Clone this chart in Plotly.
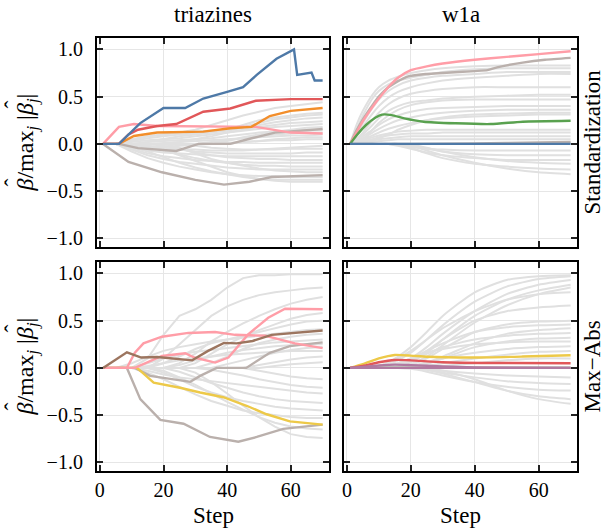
import plotly.graph_objects as go

# ---------------- data ----------------
T_STEPS = [1, 5, 10, 15, 20, 25, 30, 35, 40, 45, 50, 55, 60, 65, 70]
W_STEPS = [1, 3, 5, 8, 10, 13, 16, 20, 25, 30, 40, 50, 60, 70]

# triazines / Standardization background paths
TRI_STD_GRAY = [
    [0, 0, 0.05, 0.08, 0.1, 0.12, 0.15, 0.2, 0.25, 0.3, 0.34, 0.38, 0.4, 0.42, 0.44],
    [0, 0, 0, 0.02, 0.05, 0.08, 0.1, 0.12, 0.15, 0.2, 0.25, 0.28, 0.3, 0.32, 0.33],
    [0, 0, 0.03, 0.06, 0.08, 0.1, 0.11, 0.12, 0.14, 0.17, 0.2, 0.23, 0.25, 0.27, 0.28],
    [0, 0, 0, 0, 0, 0.02, 0.05, 0.08, 0.12, 0.15, 0.18, 0.2, 0.22, 0.23, 0.24],
    [0, 0, 0.02, 0.04, 0.05, 0.06, 0.08, 0.1, 0.12, 0.14, 0.16, 0.18, 0.19, 0.2, 0.21],
    [0, 0, 0, 0, 0, 0, 0, 0, 0.03, 0.07, 0.1, 0.13, 0.15, 0.17, 0.18],
    [0, 0, 0, 0.02, 0.03, 0.04, 0.05, 0.06, 0.08, 0.1, 0.12, 0.13, 0.14, 0.15, 0.15],
    [0, 0, 0, 0, 0, 0, 0, 0.02, 0.04, 0.06, 0.08, 0.1, 0.11, 0.12, 0.12],
    [0, 0, 0, 0, 0.01, 0.02, 0.03, 0.04, 0.05, 0.06, 0.07, 0.08, 0.09, 0.09, 0.1],
    [0, 0, 0, 0, 0, 0, 0, 0, 0, 0.02, 0.03, 0.05, 0.06, 0.07, 0.07],
    [0, 0, -0.02, -0.03, -0.03, -0.02, -0.01, 0, 0.01, 0.02, 0.03, 0.04, 0.04, 0.05, 0.05],
    [0, 0, 0, 0, 0, 0, -0.02, -0.04, -0.05, -0.06, -0.06, -0.05, -0.04, -0.03, -0.02],
    [0, 0, -0.03, -0.05, -0.06, -0.06, -0.06, -0.07, -0.07, -0.07, -0.06, -0.06, -0.05, -0.05, -0.05],
    [0, 0, 0, -0.02, -0.04, -0.06, -0.08, -0.09, -0.1, -0.1, -0.1, -0.1, -0.1, -0.09, -0.09],
    [0, 0, -0.04, -0.07, -0.09, -0.1, -0.11, -0.12, -0.13, -0.13, -0.13, -0.13, -0.13, -0.13, -0.13],
    [0, 0, 0, 0, -0.02, -0.05, -0.09, -0.12, -0.14, -0.15, -0.16, -0.16, -0.17, -0.17, -0.17],
    [0, 0, -0.05, -0.1, -0.13, -0.15, -0.17, -0.18, -0.19, -0.19, -0.2, -0.2, -0.2, -0.2, -0.2],
    [0, 0, 0, -0.03, -0.07, -0.11, -0.15, -0.18, -0.2, -0.22, -0.23, -0.23, -0.24, -0.24, -0.24],
    [0, 0, -0.06, -0.12, -0.16, -0.19, -0.21, -0.23, -0.25, -0.26, -0.27, -0.27, -0.27, -0.27, -0.27],
    [0, 0, 0, 0, 0, -0.04, -0.1, -0.16, -0.2, -0.23, -0.26, -0.28, -0.29, -0.3, -0.3],
    [0, 0, -0.08, -0.15, -0.2, -0.24, -0.27, -0.3, -0.32, -0.33, -0.34, -0.34, -0.35, -0.35, -0.35],
    [0, 0, -0.03, -0.08, -0.14, -0.2, -0.25, -0.29, -0.32, -0.35, -0.37, -0.38, -0.38, -0.38, -0.38],
    [0, 0, 0, -0.02, -0.06, -0.12, -0.18, -0.24, -0.3, -0.34, -0.37, -0.39, -0.4, -0.4, -0.4],
    [0, 0, 0.04, 0.08, 0.1, 0.12, 0.13, 0.14, 0.15, 0.18, 0.22, 0.26, 0.28, 0.3, 0.31],
]

# w1a / Standardization background paths
W1A_STD_GRAY = [
    [0, 0.2, 0.35, 0.52, 0.6, 0.67, 0.71, 0.75, 0.78, 0.8, 0.82, 0.83, 0.83, 0.83],
    [0, 0.15, 0.3, 0.48, 0.56, 0.63, 0.67, 0.7, 0.73, 0.76, 0.79, 0.8, 0.8, 0.8],
    [0, 0.1, 0.22, 0.38, 0.47, 0.56, 0.62, 0.67, 0.7, 0.72, 0.74, 0.76, 0.76, 0.76],
    [0, 0.08, 0.18, 0.32, 0.4, 0.49, 0.55, 0.6, 0.64, 0.67, 0.7, 0.72, 0.74, 0.74],
    [0, 0.05, 0.12, 0.25, 0.33, 0.42, 0.48, 0.53, 0.56, 0.58, 0.6, 0.6, 0.6, 0.6],
    [0, 0.05, 0.1, 0.2, 0.27, 0.35, 0.4, 0.44, 0.46, 0.48, 0.5, 0.51, 0.52, 0.52],
    [0, 0, 0.05, 0.15, 0.22, 0.3, 0.36, 0.41, 0.44, 0.46, 0.47, 0.47, 0.47, 0.47],
    [0, 0.03, 0.08, 0.15, 0.2, 0.26, 0.3, 0.34, 0.37, 0.38, 0.39, 0.4, 0.4, 0.4],
    [0, 0.03, 0.06, 0.12, 0.16, 0.21, 0.25, 0.28, 0.31, 0.33, 0.35, 0.36, 0.36, 0.36],
    [0, 0, 0, 0.03, 0.06, 0.1, 0.15, 0.2, 0.25, 0.28, 0.31, 0.32, 0.33, 0.33],
    [0, 0.02, 0.05, 0.09, 0.12, 0.16, 0.19, 0.22, 0.25, 0.27, 0.29, 0.3, 0.31, 0.31],
    [0, 0.02, 0.04, 0.07, 0.09, 0.11, 0.13, 0.14, 0.15, 0.15, 0.15, 0.15, 0.15, 0.15],
    [0, 0.01, 0.03, 0.05, 0.07, 0.09, 0.1, 0.11, 0.11, 0.12, 0.12, 0.12, 0.12, 0.12],
    [0, 0.01, 0.02, 0.04, 0.05, 0.06, 0.07, 0.08, 0.08, 0.08, 0.08, 0.08, 0.08, 0.08],
    [0, 0, 0.01, 0.02, 0.03, 0.04, 0.05, 0.05, 0.05, 0.05, 0.05, 0.05, 0.05, 0.05],
    [0, 0, 0, 0, 0, 0, -0.01, -0.03, -0.05, -0.06, -0.07, -0.07, -0.07, -0.07],
    [0, 0, 0, 0, 0, 0, 0, -0.02, -0.05, -0.08, -0.11, -0.12, -0.12, -0.12],
    [0, 0, 0, 0, 0, 0, -0.02, -0.05, -0.09, -0.12, -0.15, -0.17, -0.17, -0.17],
    [0, 0, 0, 0, 0, 0, 0, -0.01, -0.04, -0.08, -0.14, -0.18, -0.2, -0.21],
    [0, 0, 0, 0, 0, 0, -0.01, -0.04, -0.1, -0.15, -0.21, -0.24, -0.26, -0.27],
    [0, 0, 0, 0, 0, 0, 0, -0.02, -0.07, -0.12, -0.2, -0.26, -0.3, -0.32],
]

# triazines / Max-Abs background paths
TRI_MAX_GRAY = [
    [0, 0, 0, 0.1, 0.35, 0.55, 0.62, 0.72, 0.85, 0.95, 0.98, 0.98, 0.99, 0.99, 0.99],
    [0, 0, 0, 0, 0.1, 0.25, 0.4, 0.55, 0.65, 0.72, 0.77, 0.8, 0.82, 0.84, 0.85],
    [0, 0, 0, 0, 0, 0.05, 0.15, 0.28, 0.38, 0.47, 0.55, 0.62, 0.68, 0.72, 0.75],
    [0, 0, 0, 0, 0, 0, 0.05, 0.15, 0.25, 0.33, 0.4, 0.46, 0.52, 0.56, 0.58],
    [0, 0, 0, 0, 0.05, 0.12, 0.2, 0.26, 0.3, 0.34, 0.38, 0.42, 0.46, 0.49, 0.5],
    [0, 0, 0.05, 0.12, 0.18, 0.22, 0.25, 0.28, 0.3, 0.32, 0.34, 0.36, 0.38, 0.4, 0.41],
    [0, 0, 0, 0, 0, 0, 0, 0.05, 0.12, 0.2, 0.26, 0.3, 0.33, 0.35, 0.36],
    [0, 0, 0, 0.05, 0.1, 0.14, 0.17, 0.19, 0.21, 0.23, 0.25, 0.27, 0.28, 0.29, 0.3],
    [0, 0, 0, 0, 0, 0.03, 0.08, 0.12, 0.16, 0.19, 0.21, 0.23, 0.24, 0.25, 0.25],
    [0, 0, 0, 0, 0, 0, 0, 0, 0.04, 0.08, 0.12, 0.16, 0.19, 0.21, 0.22],
    [0, 0, 0, 0.02, 0.05, 0.08, 0.1, 0.12, 0.14, 0.15, 0.16, 0.17, 0.18, 0.18, 0.18],
    [0, 0, 0, 0, 0, 0, 0, 0, 0, 0, 0.03, 0.06, 0.09, 0.11, 0.12],
    [0, 0, 0, 0, 0, 0, 0, 0, 0, 0, 0, 0.02, 0.04, 0.05, 0.06],
    [0, 0, 0, 0, 0, 0, 0, 0, 0, 0, -0.03, -0.06, -0.09, -0.11, -0.12],
    [0, 0, 0, 0, 0, 0, 0, -0.02, -0.05, -0.08, -0.12, -0.15, -0.18, -0.2, -0.21],
    [0, 0, 0, -0.03, -0.07, -0.1, -0.12, -0.14, -0.16, -0.18, -0.2, -0.22, -0.24, -0.26, -0.27],
    [0, 0, 0, 0, 0, -0.04, -0.1, -0.16, -0.21, -0.26, -0.3, -0.33, -0.35, -0.36, -0.37],
    [0, 0, 0, 0, -0.05, -0.12, -0.2, -0.26, -0.31, -0.35, -0.38, -0.41, -0.43, -0.44, -0.45],
    [0, 0, 0, -0.05, -0.12, -0.2, -0.28, -0.35, -0.4, -0.45, -0.48, -0.5, -0.52, -0.53, -0.53],
    [0, 0, 0, 0, -0.03, -0.1, -0.18, -0.27, -0.36, -0.44, -0.52, -0.58, -0.62, -0.64, -0.65],
    [0, 0, 0, 0, 0, 0, -0.05, -0.15, -0.27, -0.4, -0.52, -0.62, -0.7, -0.73, -0.74],
]

# w1a / Max-Abs background paths
W1A_MAX_GRAY = [
    [0, 0, 0, 0, 0.02, 0.06, 0.12, 0.22, 0.38, 0.55, 0.8, 0.93, 0.97, 0.98],
    [0, 0, 0, 0, 0, 0.03, 0.08, 0.16, 0.3, 0.45, 0.7, 0.86, 0.94, 0.97],
    [0, 0, 0, 0, 0, 0, 0.03, 0.1, 0.22, 0.36, 0.6, 0.78, 0.88, 0.93],
    [0, 0, 0, 0, 0, 0, 0.02, 0.06, 0.16, 0.3, 0.55, 0.72, 0.82, 0.88],
    [0, 0, 0, 0, 0, 0, 0, 0.04, 0.12, 0.24, 0.48, 0.66, 0.78, 0.85],
    [0, 0, 0, 0, 0.02, 0.05, 0.1, 0.18, 0.3, 0.42, 0.6, 0.72, 0.78, 0.8],
    [0, 0, 0, 0, 0, 0, 0.02, 0.08, 0.18, 0.3, 0.5, 0.6, 0.64, 0.66],
    [0, 0, 0, 0, 0, 0, 0, 0.03, 0.1, 0.2, 0.38, 0.46, 0.49, 0.5],
    [0, 0, 0, 0, 0, 0.02, 0.05, 0.1, 0.18, 0.26, 0.38, 0.43, 0.45, 0.46],
    [0, 0, 0, 0, 0, 0, 0, 0.02, 0.06, 0.12, 0.26, 0.36, 0.4, 0.42],
    [0, 0, 0, 0, 0, 0, 0.03, 0.08, 0.15, 0.22, 0.3, 0.34, 0.36, 0.37],
    [0, 0, 0, 0, 0, 0, 0, 0, 0.04, 0.1, 0.22, 0.28, 0.31, 0.32],
    [0, 0, 0, 0, 0, 0.02, 0.05, 0.1, 0.16, 0.2, 0.25, 0.27, 0.28, 0.28],
    [0, 0, 0, 0, 0, 0, 0, 0.02, 0.05, 0.1, 0.16, 0.2, 0.22, 0.23],
    [0, 0, 0, 0, 0, 0, 0, 0, 0.02, 0.05, 0.1, 0.14, 0.17, 0.18],
    [0, 0, 0, 0, 0, 0, 0, 0, 0, 0.02, 0.05, 0.08, 0.1, 0.1],
    [0, 0, 0, 0, 0, 0, 0, 0, -0.01, -0.03, -0.06, -0.08, -0.09, -0.1],
    [0, 0, 0, 0, 0, 0, 0, 0, -0.02, -0.05, -0.1, -0.14, -0.16, -0.17],
    [0, 0, 0, 0, 0, 0, 0, -0.01, -0.04, -0.08, -0.15, -0.2, -0.23, -0.24],
    [0, 0, 0, 0, 0, 0, 0, 0, -0.02, -0.06, -0.15, -0.24, -0.3, -0.33],
    [0, 0, 0, 0, 0, 0, 0, 0, 0, -0.03, -0.12, -0.24, -0.33, -0.38],
]

# highlighted paths
TRI_STD_BLUE_X = [1, 6, 12.7, 20, 26.8, 32.5, 40, 45, 49.3, 55.5, 61, 62, 66.5, 67.5, 70]
TRI_STD_BLUE_Y = [0, 0, 0.22, 0.38, 0.38, 0.48, 0.55, 0.6, 0.73, 0.9, 1.0, 0.73, 0.755, 0.67, 0.67]
TRI_STD_RED_X = [1, 6, 9, 12, 18, 24, 32.5, 41, 49, 60, 70]
TRI_STD_RED_Y = [0, 0, 0.1, 0.15, 0.19, 0.21, 0.34, 0.375, 0.456, 0.474, 0.474]
TRI_STD_PINK_X = [1, 6, 10.7, 18, 49, 54, 60, 70]
TRI_STD_PINK_Y = [0, 0.18, 0.21, 0.19, 0.18, 0.15, 0.12, 0.11]
TRI_STD_ORANGE_X = [1, 6, 10.7, 18, 32.5, 41, 47.6, 53.4, 60, 70]
TRI_STD_ORANGE_Y = [0, 0, 0.084, 0.12, 0.13, 0.165, 0.18, 0.295, 0.35, 0.38]
TRI_STD_GRAYA_X = [1, 6, 12, 24, 31, 41, 47.7, 55, 70]
TRI_STD_GRAYA_Y = [0, 0, -0.045, -0.074, 0, 0, 0.06, 0.12, 0.158]
TRI_STD_GRAYB_X = [1, 9, 19.5, 30, 39, 47, 54, 70]
TRI_STD_GRAYB_Y = [0, -0.19, -0.3, -0.38, -0.43, -0.4, -0.35, -0.33]

W1A_STD_PINK_X = [1, 3, 5, 8, 10, 13.5, 16, 20, 25, 30, 40, 50, 60, 70]
W1A_STD_PINK_Y = [0, 0.12, 0.24, 0.39, 0.48, 0.62, 0.7, 0.78, 0.82, 0.85, 0.89, 0.92, 0.95, 0.98]
W1A_STD_GRAY_X = [1, 3, 5, 8, 10, 13, 18.7, 25, 30, 40, 44, 47, 55, 62, 70]
W1A_STD_GRAY_Y = [0, 0.14, 0.26, 0.41, 0.5, 0.6, 0.71, 0.74, 0.75, 0.77, 0.78, 0.81, 0.86, 0.89, 0.91]
W1A_STD_GREEN_X = [1, 3, 6, 9, 11, 14, 18, 24, 34, 45, 55, 70]
W1A_STD_GREEN_Y = [0, 0.09, 0.2, 0.28, 0.31, 0.305, 0.27, 0.235, 0.218, 0.21, 0.235, 0.245]
W1A_STD_GRAY2_X = [1, 20, 40, 60, 70]
W1A_STD_GRAY2_Y = [0, 0, 0.005, 0.015, 0.02]
W1A_STD_BLUE_X = [1, 70]
W1A_STD_BLUE_Y = [0, 0]

TRI_MAX_BROWN_X = [1, 8.5, 13, 18, 29, 34, 39, 43, 48, 54, 70]
TRI_MAX_BROWN_Y = [0, 0.165, 0.11, 0.115, 0.08, 0.18, 0.265, 0.26, 0.285, 0.35, 0.395]
TRI_MAX_PINKA_X = [1, 8.5, 11, 13.7, 19.5, 27.8, 36.2, 42.5, 52, 61.3, 70]
TRI_MAX_PINKA_Y = [0, 0, 0.16, 0.26, 0.33, 0.37, 0.38, 0.35, 0.34, 0.26, 0.21]
TRI_MAX_PINKB_X = [1, 11, 19.5, 26.8, 29.7, 36.2, 40.4, 46.6, 52.9, 58.2, 70]
TRI_MAX_PINKB_Y = [0, 0, 0.126, 0.155, 0.11, 0.056, 0.11, 0.355, 0.53, 0.625, 0.62]
TRI_MAX_YELLOW_X = [1, 11.7, 16.9, 25.2, 31.5, 38.8, 46.1, 52.4, 59.7, 70]
TRI_MAX_YELLOW_Y = [0, 0, -0.155, -0.21, -0.26, -0.31, -0.4, -0.49, -0.565, -0.6]
TRI_MAX_GRAYA_X = [1, 11, 15.8, 28.4, 31.5, 36.7, 46, 53.4, 59.7, 70]
TRI_MAX_GRAYA_Y = [0, 0, -0.084, -0.147, -0.084, 0, 0, 0.16, 0.23, 0.27]
TRI_MAX_GRAYB_X = [1, 8.5, 12.7, 19, 26.3, 34.6, 43.5, 49.3, 57.6, 70]
TRI_MAX_GRAYB_Y = [0, 0, -0.33, -0.55, -0.59, -0.73, -0.78, -0.73, -0.645, -0.6]

W1A_MAX_YELLOW_X = [1, 5, 10, 15, 20, 25, 40, 55, 70]
W1A_MAX_YELLOW_Y = [0, 0.04, 0.1, 0.137, 0.13, 0.118, 0.11, 0.12, 0.134]
W1A_MAX_RED_X = [1, 5, 10, 15, 20, 30, 45, 70]
W1A_MAX_RED_Y = [0, 0.02, 0.06, 0.084, 0.08, 0.06, 0.052, 0.05]
W1A_MAX_GREEN_X = [1, 70]
W1A_MAX_GREEN_Y = [0, 0]
W1A_MAX_PURPLE_X = [1, 5, 10, 15, 20, 30, 40, 70]
W1A_MAX_PURPLE_Y = [0, 0.01, 0.025, 0.035, 0.03, 0.015, 0.005, 0.0]
W1A_MAX_PURPLE2_X = [1, 70]
W1A_MAX_PURPLE2_Y = [0, 0]

COLUMN_TITLES = ["triazines", "w1a"]
ROW_TITLES = ["Standardization", "Max\u2212Abs"]
Y_TICKS = [-1.0, -0.5, 0.0, 0.5, 1.0]
Y_TICK_TEXT = ["\u22121.0", "\u22120.5", "0.0", "0.5", "1.0"]
X_TICKS = [0, 20, 40, 60]
X_TICK_TEXT = ["0", "20", "40", "60"]

# ---------------- colours ----------------
BLUE = "#4e79a7"; ORANGE = "#f28e2b"; RED = "#e15759"; GREEN = "#59a14f"
YELLOW = "#edc948"; PURPLE = "#b07aa1"; PINK = "#ff9da7"; BROWN = "#9c755f"
GREYBROWN = "#bab0ac"; LIGHT = "#e0e0e0"

FONT = "Liberation Serif, Times New Roman, serif"
fig = go.Figure()

def add_line(x, y, color, axis, width=2.4, spline=False):
    fig.add_trace(go.Scatter(
        x=x, y=y, mode="lines",
        line=dict(color=color, width=width, shape="spline" if spline else "linear", smoothing=0.6),
        xaxis="x" + axis, yaxis="y" + axis, showlegend=False, hoverinfo="skip"))

for row in TRI_STD_GRAY:
    add_line(T_STEPS, row, LIGHT, "", width=2)
for x, y, c in [(TRI_STD_GRAYA_X, TRI_STD_GRAYA_Y, GREYBROWN),
                (TRI_STD_GRAYB_X, TRI_STD_GRAYB_Y, GREYBROWN),
                (TRI_STD_PINK_X, TRI_STD_PINK_Y, PINK),
                (TRI_STD_ORANGE_X, TRI_STD_ORANGE_Y, ORANGE),
                (TRI_STD_RED_X, TRI_STD_RED_Y, RED),
                (TRI_STD_BLUE_X, TRI_STD_BLUE_Y, BLUE)]:
    add_line(x, y, c, "")

for row in W1A_STD_GRAY:
    add_line(W_STEPS, row, LIGHT, "2", width=2, spline=True)
for x, y, c in [(W1A_STD_GRAY2_X, W1A_STD_GRAY2_Y, GREYBROWN),
                (W1A_STD_GRAY_X, W1A_STD_GRAY_Y, GREYBROWN),
                (W1A_STD_PINK_X, W1A_STD_PINK_Y, PINK),
                (W1A_STD_GREEN_X, W1A_STD_GREEN_Y, GREEN),
                (W1A_STD_BLUE_X, W1A_STD_BLUE_Y, BLUE)]:
    add_line(x, y, c, "2", spline=True)

for row in TRI_MAX_GRAY:
    add_line(T_STEPS, row, LIGHT, "3", width=2)
for x, y, c in [(TRI_MAX_GRAYA_X, TRI_MAX_GRAYA_Y, GREYBROWN),
                (TRI_MAX_GRAYB_X, TRI_MAX_GRAYB_Y, GREYBROWN),
                (TRI_MAX_YELLOW_X, TRI_MAX_YELLOW_Y, YELLOW),
                (TRI_MAX_PINKA_X, TRI_MAX_PINKA_Y, PINK),
                (TRI_MAX_PINKB_X, TRI_MAX_PINKB_Y, PINK),
                (TRI_MAX_BROWN_X, TRI_MAX_BROWN_Y, BROWN)]:
    add_line(x, y, c, "3")

for row in W1A_MAX_GRAY:
    add_line(W_STEPS, row, LIGHT, "4", width=2, spline=True)
for x, y, c in [(W1A_MAX_GREEN_X, W1A_MAX_GREEN_Y, GREEN),
                (W1A_MAX_YELLOW_X, W1A_MAX_YELLOW_Y, YELLOW),
                (W1A_MAX_RED_X, W1A_MAX_RED_Y, RED),
                (W1A_MAX_PURPLE_X, W1A_MAX_PURPLE_Y, PURPLE),
                (W1A_MAX_PURPLE2_X, W1A_MAX_PURPLE2_Y, PURPLE)]:
    add_line(x, y, c, "4", spline=True)

# ---------------- layout ----------------
L, R, T, B = 97, 31, 38, 58
W, H = 608, 529
PW, PH = W - L - R, H - T - B
cx = [[0, (329 - L) / PW], [(344 - L) / PW, 1]]
ry = [[(H - B - 247) / PH, 1], [0, (H - B - 262) / PH]]

def xax(dom, anchor, labels):
    return dict(domain=dom, anchor=anchor, range=[-0.9, 72], tickvals=X_TICKS,
                ticktext=X_TICK_TEXT, showticklabels=labels, ticks="inside", ticklen=6,
                tickwidth=1.5, tickcolor="#222", mirror="allticks", showline=True,
                linecolor="black", linewidth=2.2, showgrid=True, gridcolor="#e6e6e6",
                gridwidth=1, zeroline=False, tickfont=dict(family=FONT, size=20, color="black"))

def yax(dom, anchor, labels):
    return dict(domain=dom, anchor=anchor, range=[-1.09, 1.12], tickvals=Y_TICKS,
                ticktext=Y_TICK_TEXT, showticklabels=labels, ticks="inside", ticklen=6,
                tickwidth=1.5, tickcolor="#222", mirror="allticks", showline=True,
                linecolor="black", linewidth=2.2, showgrid=True, gridcolor="#e6e6e6",
                gridwidth=1, zeroline=False, ticklabelstandoff=8,
                tickfont=dict(family=FONT, size=20, color="black"))

fig.update_layout(
    width=W, height=H, margin=dict(l=L, r=R, t=T, b=B),
    paper_bgcolor="white", plot_bgcolor="white",
    font=dict(family=FONT, color="black"),
    xaxis=xax(cx[0], "y", False), yaxis=yax(ry[0], "x", True),
    xaxis2=xax(cx[1], "y2", False), yaxis2=yax(ry[0], "x2", False),
    xaxis3=xax(cx[0], "y3", True), yaxis3=yax(ry[1], "x3", True),
    xaxis4=xax(cx[1], "y4", True), yaxis4=yax(ry[1], "x4", False),
)

def py2paper(py):
    return (H - B - py) / PH

def px2paper(px):
    return (px - L) / PW

ann = []
for i, t in enumerate(COLUMN_TITLES):
    ann.append(dict(text=t, x=sum(cx[i]) / 2, y=py2paper(15), xref="paper", yref="paper",
                    showarrow=False, font=dict(family=FONT, size=23), xanchor="center", yanchor="middle"))
    ann.append(dict(text="Step", x=sum(cx[i]) / 2, y=py2paper(515), xref="paper", yref="paper",
                    showarrow=False, font=dict(family=FONT, size=23), xanchor="center", yanchor="middle"))
ylab = "<i>β</i>/max<sub><i>j</i></sub> |<i>β</i><sub><i>j</i></sub>|"
for j, t in enumerate(ROW_TITLES):
    yc = sum(ry[j]) / 2
    ycp = H - B - yc * PH  # page pixel of centre
    ann.append(dict(text=t, x=px2paper(592), y=yc, xref="paper", yref="paper", textangle=-90,
                    showarrow=False, font=dict(family=FONT, size=23), xanchor="center", yanchor="middle"))
    ann.append(dict(text=ylab, x=px2paper(26), y=yc, xref="paper", yref="paper", textangle=-90,
                    showarrow=False, font=dict(family=FONT, size=24), xanchor="center", yanchor="middle"))
    # hats over the two betas
    for off in (40, -38):
        ann.append(dict(text="ˆ", x=px2paper(12), y=py2paper(ycp + off), xref="paper", yref="paper",
                        textangle=-90, showarrow=False, font=dict(family=FONT, size=24),
                        xanchor="center", yanchor="middle"))
fig.update_layout(annotations=ann)

fig.write_html("out.html", config={"displayModeBar": False},
               post_script="document.body.style.margin='0';document.body.style.overflow='hidden';")
